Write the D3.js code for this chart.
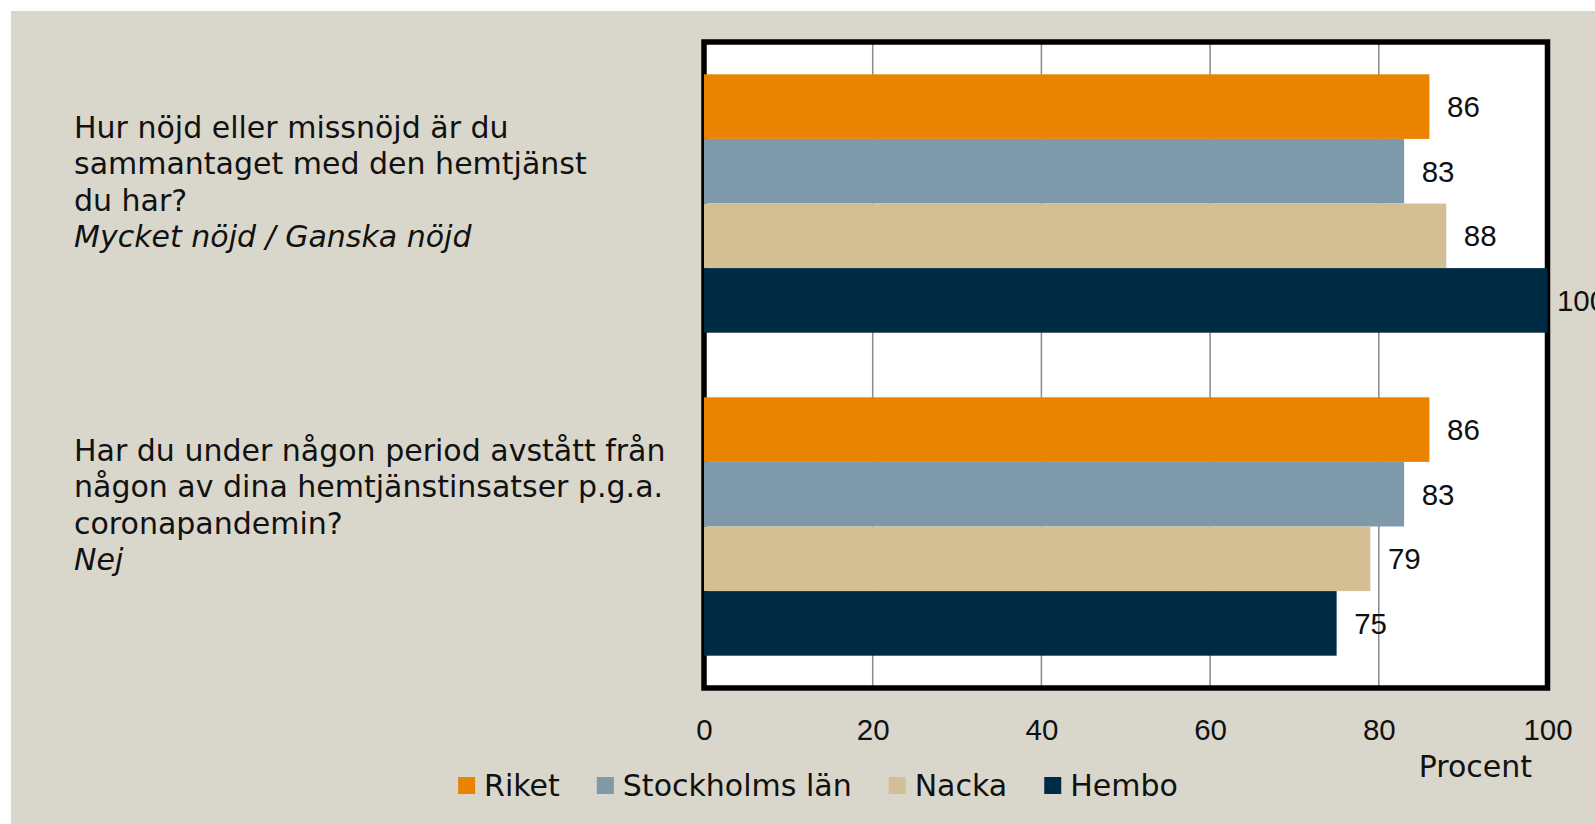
<!DOCTYPE html>
<html>
<head>
<meta charset="utf-8">
<script src="https://cdn.jsdelivr.net/npm/d3@7"></script>
<style>
  body { margin: 0; background: #fff; }
  svg text { font-family: "DejaVu Sans", sans-serif; fill: #111; }
  svg text.num { font-family: "Liberation Sans", sans-serif; }
</style>
</head>
<body>
<svg id="drawing_region"></svg>
<script>
// data
const questions = ['q1', 'q2'];
const questionLines = [
    ['Hur nöjd eller missnöjd är du', 'sammantaget med den hemtjänst', 'du har?', 'Mycket nöjd / Ganska nöjd'],
    ['Har du under någon period avstått från', 'någon av dina hemtjänstinsatser p.g.a.', 'coronapandemin?', 'Nej']
];
const series = ['Riket', 'Stockholms län', 'Nacka', 'Hembo'];
const riket = [86, 86];
const stockholm = [83, 83];
const nacka = [88, 79];
const hembo = [100, 75];
const xTicks = [0, 20, 40, 60, 80, 100];
const colors = ['#E98300', '#7D99AA', '#D4BF95', '#002B45'];

const values = [riket, stockholm, nacka, hembo];
const data = [];
questions.forEach((q, i) => {
    series.forEach((s, j) => data.push({ q: q, s: s, value: values[j][i] }));
});

const W = 1595, H = 824;
const fs = 30;     // label text
const nfs = 29.5;  // numbers

const svg = d3.select('#drawing_region')
    .attr('width', W)
    .attr('height', H);

svg.append('rect')
    .attr('x', 11).attr('y', 11)
    .attr('width', W - 11).attr('height', H - 11)
    .attr('fill', '#D9D7CB');

const xscale = d3.scaleLinear().domain([0, 100]).range([704, 1547.5]);
const yscale = d3.scaleBand().domain(questions).range([42, 688]);
const sscale = d3.scaleBand().domain(series).range([0, yscale.bandwidth()]).paddingOuter(0.5);
const color = d3.scaleOrdinal().domain(series).range(colors);

// plot area
svg.append('rect')
    .attr('x', xscale(0)).attr('y', 42)
    .attr('width', xscale(100) - xscale(0)).attr('height', 646)
    .attr('fill', '#fff');

svg.append('g').selectAll('line')
    .data(xTicks.filter(d => d > 0 && d < 100))
    .join('line')
    .attr('x1', d => xscale(d)).attr('x2', d => xscale(d))
    .attr('y1', 42).attr('y2', 688)
    .attr('stroke', '#8a8a8a')
    .attr('stroke-width', 1.5);

svg.append('rect')
    .attr('x', xscale(0)).attr('y', 42)
    .attr('width', xscale(100) - xscale(0)).attr('height', 646)
    .attr('fill', 'none')
    .attr('stroke', '#000')
    .attr('stroke-width', 5.5);

// bars
const chart = svg.append('g');
chart.selectAll('rect')
    .data(data)
    .join('rect')
    .attr('x', xscale(0))
    .attr('y', d => yscale(d.q) + sscale(d.s))
    .attr('width', d => xscale(d.value) - xscale(0))
    .attr('height', sscale.bandwidth())
    .attr('fill', d => color(d.s));

chart.selectAll('text')
    .data(data)
    .join('text')
    .attr('class', 'num')
    .attr('x', d => xscale(d.value) + 34)
    .attr('y', d => yscale(d.q) + sscale(d.s) + sscale.bandwidth() / 2)
    .attr('dy', '0.36em')
    .attr('text-anchor', 'middle')
    .attr('font-size', nfs)
    .text(d => d.value);

// x axis
const xaxis = d3.axisBottom(xscale).tickValues(xTicks).tickSize(0).tickPadding(0);
const xaxis_group = svg.append('g')
    .attr('transform', 'translate(0, 719)')
    .call(xaxis);
xaxis_group.select('.domain').remove();
xaxis_group.selectAll('text')
    .attr('class', 'num')
    .attr('font-size', nfs)
    .attr('font-family', null)
    .attr('fill', '#111')
    .attr('dy', '0.71em');

svg.append('text')
    .attr('x', 1532).attr('y', 777)
    .attr('text-anchor', 'end')
    .attr('font-size', fs)
    .text('Procent');

// question labels
questions.forEach((q, i) => {
    const t = svg.append('text')
        .attr('x', 74)
        .attr('y', yscale(q) + yscale.bandwidth() / 2 - 66)
        .attr('font-size', fs);
    questionLines[i].forEach((line, k) => {
        t.append('tspan')
            .attr('x', 74)
            .attr('dy', k === 0 ? 0 : 36.5)
            .attr('font-style', k === questionLines[i].length - 1 ? 'italic' : 'normal')
            .text(line);
    });
});

// legend
const legend = svg.append('g');
const items = legend.selectAll('g')
    .data(series)
    .join('g');
items.append('rect')
    .attr('y', 777)
    .attr('width', 17).attr('height', 17)
    .attr('fill', d => color(d));
items.append('text')
    .attr('x', 26)
    .attr('y', 796)
    .attr('font-size', fs)
    .text(d => d);
let lx = 0;
items.each(function () {
    d3.select(this).attr('transform', `translate(${lx},0)`);
    lx += 26 + d3.select(this).select('text').node().getComputedTextLength() + 37;
});
lx -= 37;
legend.attr('transform', `translate(${818 - lx / 2},0)`);
</script>
</body>
</html>
